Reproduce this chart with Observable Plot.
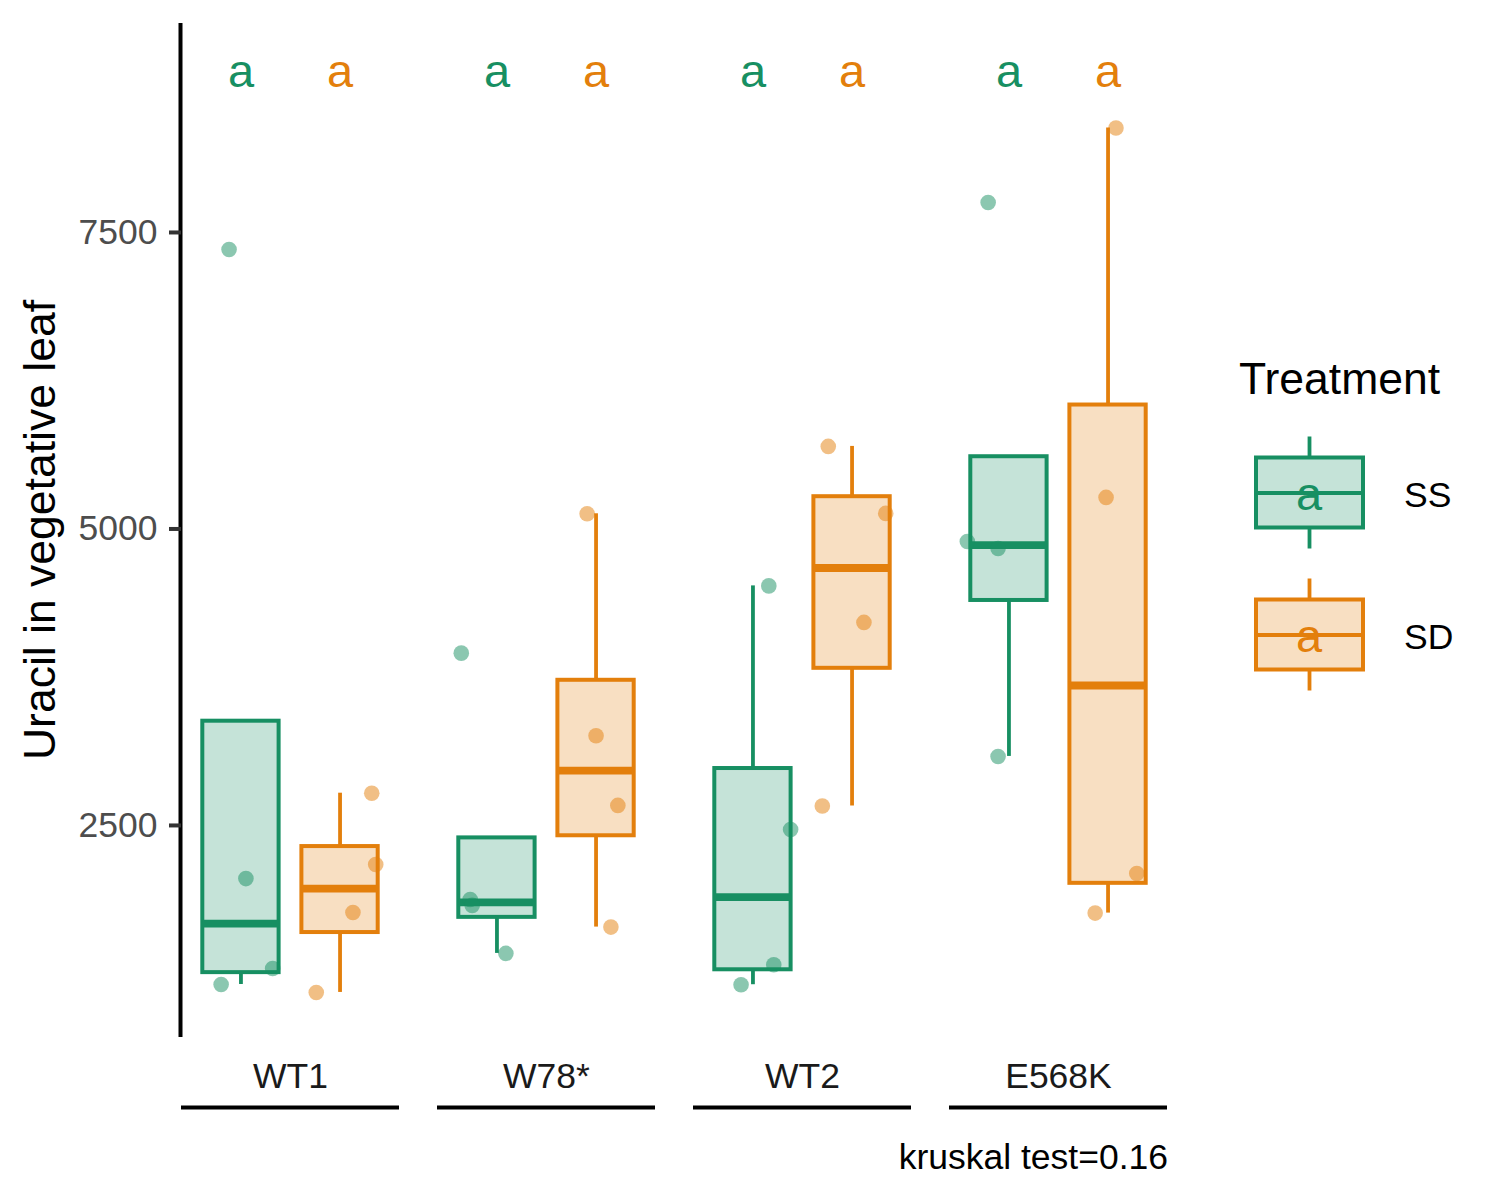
<!DOCTYPE html>
<html>
<head>
<meta charset="utf-8">
<script src="https://cdn.jsdelivr.net/npm/d3@7"></script>
<script src="https://cdn.jsdelivr.net/npm/@observablehq/plot@0.6"></script>
<style>
  html, body { margin: 0; padding: 0; background: #fff; }
  #wrap { position: relative; width: 1500px; height: 1200px; }
  #overlay { position: absolute; left: 0; top: 0; pointer-events: none; }
</style>
</head>
<body>
<div id="wrap"></div>
<script>
// ---------------- data ----------------
const genotypes = ["WT1", "W78*", "WT2", "E568K"];
const treatments = ["SS", "SD"];

// box statistics, one value per genotype
const ssQ1  = [1259, 1725, 1283, 4397];
const ssMed = [1673, 1851, 1896, 4864];
const ssQ3  = [3379, 2395, 2980, 5609];
const ssLo  = [1159, 1421, 1157, 3082];
const ssHi  = [3379, 2395, 4520, 5609];

const sdQ1  = [1597, 2413, 3825, 2012];
const sdMed = [1968, 2962, 4671, 3680];
const sdQ3  = [2322, 3724, 5272, 6045];
const sdLo  = [1092, 1643, 2664, 1761];
const sdHi  = [2772, 5128, 5696, 8381];

// individual observations and their horizontal jitter (category units)
const ssValues = [[7357, 2052, 1294, 1159], [3953, 1876, 1826, 1421], [4520, 2466, 1325, 1157], [7753, 4894, 4835, 3082]];
const ssJitter = [[-0.12, 0.05, 0.32, -0.20], [-0.36, -0.27, -0.25, 0.09], [0.16, 0.38, 0.21, -0.12], [-0.21, -0.42, -0.11, -0.11]];
const sdValues = [[2772, 2171, 1766, 1092], [5128, 3256, 2669, 1643], [5696, 5131, 4212, 2664], [8381, 5266, 2095, 1761]];
const sdJitter = [[0.32, 0.36, 0.13, -0.24], [-0.09, 0.00, 0.22, 0.15], [-0.24, 0.34, 0.12, -0.30], [0.08, -0.02, 0.29, -0.13]];

// significance letters
const ssLetters = ["a", "a", "a", "a"];
const sdLetters = ["a", "a", "a", "a"];
const letterY = 8850;

const yTicks = [2500, 5000, 7500];
const yDomain = [712, 9262];
const yTitle = "Uracil in vegetative leaf";
const legendTitle = "Treatment";
const caption = "kruskal test=0.16";

// ---------------- build tables ----------------
const green = "#178f62", orange = "#e37f0c";
const FONT = "'Liberation Sans', Arial, Helvetica, sans-serif";
const tIndex = {SS: 1, SD: 2};
const boxes = [], points = [], letters = [];
genotypes.forEach((g, gi) => {
  boxes.push({g, t: "SS", q1: ssQ1[gi], med: ssMed[gi], q3: ssQ3[gi], lo: ssLo[gi], hi: ssHi[gi]});
  boxes.push({g, t: "SD", q1: sdQ1[gi], med: sdMed[gi], q3: sdQ3[gi], lo: sdLo[gi], hi: sdHi[gi]});
  ssValues[gi].forEach((v, k) => points.push({g, t: "SS", v, j: ssJitter[gi][k]}));
  sdValues[gi].forEach((v, k) => points.push({g, t: "SD", v, j: sdJitter[gi][k]}));
  letters.push({g, t: "SS", s: ssLetters[gi]});
  letters.push({g, t: "SD", s: sdLetters[gi]});
});
const hw = 0.385;
const xi = d => tIndex[d.t];

const chart = Plot.plot({
  width: 1500,
  height: 1200,
  marginLeft: 180,
  marginRight: 331,
  marginTop: 23,
  marginBottom: 163,
  style: {fontFamily: FONT, fontSize: "35.5px", background: "white", color: "black"},
  fx: {domain: genotypes, paddingInner: 38 / 257, paddingOuter: 0, label: null},
  x: {domain: [0.4, 2.6], axis: null},
  y: {domain: yDomain},
  color: {domain: treatments, range: [green, orange]},
  marks: [
    // y axis line (left panel only)
    Plot.ruleX([genotypes[0]], {fx: d => d, x: () => 0.4, dx: -1, stroke: "black", strokeWidth: 4}),
    Plot.axisY({ticks: yTicks, tickFormat: d3.format("d"), tickSize: 12, tickPadding: 12, strokeWidth: 4,
      stroke: "#333333", fill: "#4d4d4d", fontSize: 35.5, label: null}),
    Plot.axisFx({anchor: "bottom", tickSize: 0, tickPadding: 25, fontSize: 35.5, fill: "#1a1a1a", label: null}),
    // panel underline
    Plot.ruleY([yDomain[0]], {dy: 70, stroke: "black", strokeWidth: 4}),
    // whiskers
    Plot.ruleX(boxes, {fx: "g", x: xi, y1: "q3", y2: "hi", stroke: "t", strokeWidth: 3.8}),
    Plot.ruleX(boxes, {fx: "g", x: xi, y1: "lo", y2: "q1", stroke: "t", strokeWidth: 3.8}),
    // boxes
    Plot.rect(boxes, {fx: "g", x1: d => xi(d) - hw, x2: d => xi(d) + hw, y1: "q1", y2: "q3",
      fill: "t", fillOpacity: 0.25, stroke: "t", strokeWidth: 4}),
    // medians
    Plot.ruleY(boxes, {fx: "g", x1: d => xi(d) - hw, x2: d => xi(d) + hw, y: "med", stroke: "t", strokeWidth: 7.8}),
    // observations
    Plot.dot(points, {fx: "g", x: d => xi(d) + d.j, y: "v", fill: "t", fillOpacity: 0.5, r: 7.8, stroke: null}),
    // letters
    Plot.text(letters, {fx: "g", x: xi, y: () => letterY, text: "s", fill: "t", fontSize: 47, fontFamily: FONT})
  ]
});
const wrap = document.getElementById("wrap");
wrap.appendChild(chart);

// ---------------- overlay: y title, legend, caption ----------------
const ov = d3.select(wrap).append("svg").attr("id", "overlay")
  .attr("width", 1500).attr("height", 1200)
  .style("font-family", FONT);

ov.append("text")
  .attr("transform", "translate(55,530) rotate(-90)")
  .attr("text-anchor", "middle")
  .attr("font-size", 44.5)
  .attr("fill", "black")
  .text(yTitle);

ov.append("text")
  .attr("x", 1239).attr("y", 394)
  .attr("font-size", 44.5).attr("fill", "black")
  .text(legendTitle);

const colorOf = {SS: green, SD: orange};
const keyTops = {SS: 457.5, SD: 599.5};
treatments.forEach(t => {
  const top = keyTops[t], bot = top + 70, c = colorOf[t], mid = top + 35.5;
  const gk = ov.append("g");
  gk.append("line").attr("x1", 1309.5).attr("x2", 1309.5).attr("y1", top - 21).attr("y2", top).attr("stroke", c).attr("stroke-width", 3.8);
  gk.append("line").attr("x1", 1309.5).attr("x2", 1309.5).attr("y1", bot).attr("y2", bot + 21).attr("stroke", c).attr("stroke-width", 3.8);
  gk.append("rect").attr("x", 1256).attr("y", top).attr("width", 107).attr("height", 70)
    .attr("fill", c).attr("fill-opacity", 0.25).attr("stroke", c).attr("stroke-width", 4);
  gk.append("line").attr("x1", 1256).attr("x2", 1363).attr("y1", mid).attr("y2", mid).attr("stroke", c).attr("stroke-width", 3.8);
  gk.append("text").attr("x", 1309).attr("y", mid + 17).attr("text-anchor", "middle")
    .attr("font-size", 47).attr("fill", c).text(t === "SS" ? ssLetters[0] : sdLetters[0]);
  gk.append("text").attr("x", 1404).attr("y", mid + 13.5)
    .attr("font-size", 35.5).attr("fill", "black").text(t);
});

ov.append("text")
  .attr("x", 1168).attr("y", 1169)
  .attr("text-anchor", "end")
  .attr("font-size", 35.5).attr("fill", "black")
  .text(caption);
</script>
</body>
</html>
